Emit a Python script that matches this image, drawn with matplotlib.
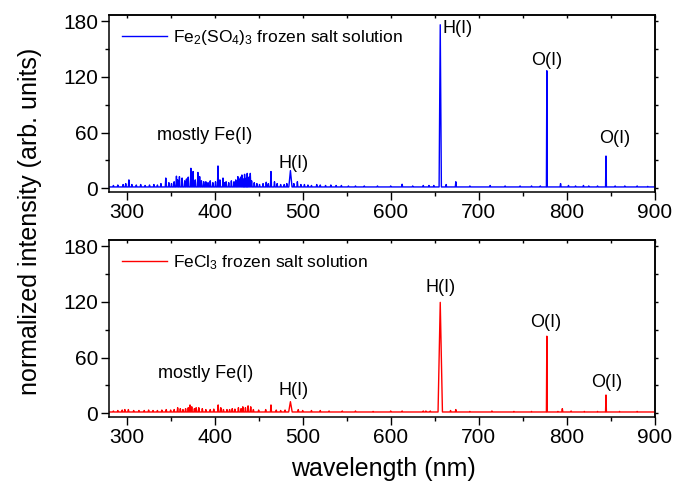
import numpy as np
import matplotlib
matplotlib.use("Agg")
import matplotlib.pyplot as plt
from matplotlib.ticker import MultipleLocator

plt.rcParams['font.family'] = ['Liberation Sans', 'DejaVu Sans']
plt.rcParams['mathtext.fontset'] = 'custom'
plt.rcParams['mathtext.rm'] = 'Liberation Sans'
plt.rcParams['mathtext.it'] = 'Liberation Sans:italic'

# ---------------- data ----------------
x_range = [280, 900]
y_ticks = [0, 60, 120, 180]
x_ticks = [300, 400, 500, 600, 700, 800, 900]

# Fe2(SO4)3 spectrum: baseline level, line positions (nm), heights, half-widths (nm)
fe2so43_base = 1.4
fe2so43_nm = [656.3, 777.4, 844.6, 486.1,
              302.6, 344.5, 356.6, 360.0, 363.0, 373.0, 375.5, 381.0, 383.0, 387.6,
              392.5, 403.8, 409.5, 413.0, 426.4, 431.0, 434.0, 437.0, 440.5, 458.6,
              464.0, 468.0, 494.0, 613.0,
              285, 290, 296, 299, 306, 311, 316, 321, 326, 331, 335, 339, 348, 351,
              354, 358, 366, 368, 370, 378, 385, 390, 395, 398, 401, 406, 411, 416,
              419, 422, 424, 428, 429.5, 433, 436, 439, 442, 445, 448, 451, 455, 461,
              471, 475, 479, 482, 490, 498, 502, 506, 510, 516, 520, 526, 532, 538,
              544, 552, 560, 570, 585, 600, 625, 637, 643.5, 649, 663, 674, 690, 713,
              730, 747, 760, 770, 793, 802, 810, 819, 825, 835, 855, 866, 880, 892]
fe2so43_int = [176, 126.5, 34.7, 19,
               9, 11, 13, 12.5, 11, 21.5, 18, 17, 12.5, 7,
               6, 24, 11, 7, 12.5, 14.3, 15, 16, 16, 6.5,
               18, 7, 7, 4.3,
               3, 3.5, 4, 5, 4, 3.5, 4, 3, 3.5, 4, 3.5, 5, 6, 5,
               7, 9, 8, 10, 12, 9, 8, 7, 8, 6, 7, 9, 6, 6,
               8, 7, 9, 10, 12, 10, 11, 12, 8, 6, 5, 4, 5, 5,
               5, 4, 4, 5, 5, 4, 4, 3.5, 3, 4, 3.5, 3, 3.5, 3,
               3, 2.5, 2.5, 2.5, 2.5, 2.5, 2.5, 3, 3, 3, 4, 7, 2.5, 3,
               2.5, 2.5, 2.5, 2.5, 5, 3, 2.5, 3, 2.5, 2.5, 2.5, 2.5, 2.5, 2]
fe2so43_hw = [1.3, 0.5, 0.5, 1.8] + [0.6] * (len(fe2so43_nm) - 4)

# FeCl3 spectrum
fecl3_base = 1.4
fecl3_nm = [656.3, 777.4, 844.6, 486.1,
            302, 330, 345, 358, 361, 364, 372, 374, 382, 386, 404, 407, 414, 420,
            427, 432, 438, 441, 458, 464, 495, 520, 613, 637, 674, 795,
            285, 290, 295, 298, 308, 314, 320, 325, 335, 340, 350, 354, 367, 370,
            377, 379, 390, 395, 399, 410, 417, 423, 430, 435, 444, 450, 470, 475,
            480, 500, 510, 530, 545, 560, 580, 600, 640, 645, 668, 690, 715, 740,
            760, 790, 805, 820, 835, 860, 880]
fecl3_int = [119.4, 83, 19.7, 12.5,
             4, 3, 4, 6, 5, 4, 9, 7, 6, 5, 9, 6, 4, 5,
             6, 7, 8, 7, 4, 9, 4, 3, 2.5, 2.5, 4, 5,
             2.5, 3, 3.5, 4, 3, 3, 3, 3.5, 3, 3.5, 3.5, 4, 5, 6,
             5, 6, 4, 4, 4.5, 4, 4, 4.5, 5, 6, 4, 3.5, 3.5, 3,
             3.5, 3, 3, 2.5, 2.5, 2.5, 2, 2.5, 2.5, 2.5, 3, 2, 2.5, 2,
             2, 2, 2.5, 2, 2, 2, 2]
fecl3_hw = [2.5, 0.5, 0.5, 2.0] + [0.6] * (len(fecl3_nm) - 4)

panels = [
    dict(nm=fe2so43_nm, inten=fe2so43_int, hw=fe2so43_hw, base=fe2so43_base,
         color='#0000ff', label=r'Fe$_2$(SO$_4$)$_3$ frozen salt solution',
         notes=[('mostly Fe(I)', 334, 57, 'left'), ('H(I)', 490, 27, 'center'),
                ('H(I)', 659, 172, 'left'), ('O(I)', 777.7, 138, 'center'),
                ('O(I)', 854, 54, 'center')]),
    dict(nm=fecl3_nm, inten=fecl3_int, hw=fecl3_hw, base=fecl3_base,
         color='#ff0000', label=r'FeCl$_3$ frozen salt solution',
         notes=[('mostly Fe(I)', 335.5, 43, 'left'), ('H(I)', 489.6, 24.3, 'center'),
                ('H(I)', 656.3, 135.5, 'center'), ('O(I)', 776, 98, 'center'),
                ('O(I)', 845, 33, 'center')]),
]


def spectrum(nm, inten, hw, base):
    pts = [(x_range[0], base), (x_range[1], base)]
    for c, h, w in zip(nm, inten, hw):
        pts += [(c - w, base), (c, h), (c + w, base)]
    pts.sort(key=lambda p: p[0])
    arr = np.array(pts)
    return arr[:, 0], arr[:, 1]


fig = plt.figure(figsize=(6.75, 4.92), dpi=100)
axes_rects = [[0.1615, 0.6104, 0.8085, 0.3591], [0.1615, 0.1530, 0.8085, 0.3591]]

for rect, p in zip(axes_rects, panels):
    ax = fig.add_axes(rect)
    xs, ys = spectrum(p['nm'], p['inten'], p['hw'], p['base'])
    ax.plot(xs, ys, color=p['color'], lw=1.0, label=p['label'])
    ax.set_xlim(*x_range)
    ax.set_ylim(-3.7, 186.5)
    ax.set_xticks(x_ticks)
    ax.set_yticks(y_ticks)
    ax.xaxis.set_minor_locator(MultipleLocator(50))
    ax.yaxis.set_minor_locator(MultipleLocator(30))
    ax.tick_params(axis='both', which='major', labelsize=15, width=1.0, length=6,
                   direction='out', pad=2)
    ax.tick_params(axis='both', which='minor', width=1.0, length=3, direction='out')
    # secondary ticks on top/right
    sec_x = ax.secondary_xaxis('top')
    sec_x.set_xticks(x_ticks)
    sec_x.xaxis.set_minor_locator(MultipleLocator(50))
    sec_x.tick_params(which='both', direction='in', length=2.5, width=1.0, labelsize=0)
    sec_x.set_xticklabels([])
    sec_y = ax.secondary_yaxis('right')
    sec_y.set_yticks(y_ticks)
    sec_y.yaxis.set_minor_locator(MultipleLocator(30))
    sec_y.tick_params(which='both', direction='out', length=2, width=1.0)
    sec_y.set_yticklabels([])
    for s in ax.spines.values():
        s.set_linewidth(1.1)
    for s in list(sec_x.spines.values()) + list(sec_y.spines.values()):
        s.set_linewidth(1.1)
    leg = ax.legend(loc='upper left', bbox_to_anchor=(0.0233, 0.925), frameon=False,
                    fontsize=12.5, handlelength=2.6, handletextpad=0.35,
                    borderpad=0, borderaxespad=0)
    for txt, x, y, ha in p['notes']:
        ax.text(x, y, txt, fontsize=13, ha=ha, va='center')

fig.text(0.044, 0.55, 'normalized intensity (arb. units)', rotation=90,
         fontsize=18, ha='center', va='center')
fig.text(0.568, 0.047, 'wavelength (nm)', fontsize=18, ha='center', va='center')

fig.savefig('out.png', dpi=100)
